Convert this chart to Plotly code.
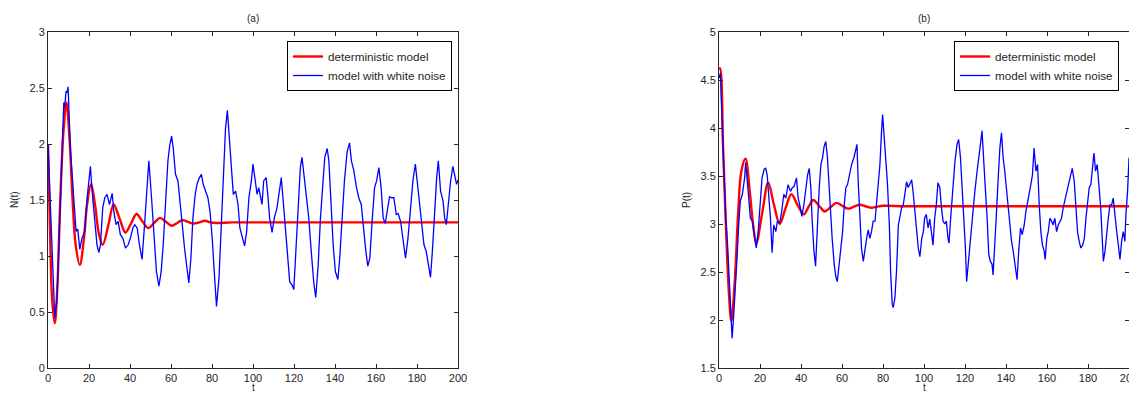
import plotly.graph_objects as go

# page is 1137x394; the HTML body has an 8px default margin, so the figure is
# sized to fill the rest of the window and layout positions are given in page pixels
OFF = 8
W, H = 1137 - OFF, 394 - OFF

# ---------------- data: panel (a) N(t) ----------------
t_N_det = [0, 1, 2, 3.3, 4.5, 6, 7.5, 9, 10.5, 12, 13.5, 15.5, 17.5, 19, 21, 23, 24.8, 26.7,
           29.5, 32, 35, 37.8, 40.5, 43.2, 46, 48.9, 51.8, 54.6, 57.5, 60.3, 63, 65.5, 68.3,
           71, 73.8, 76.5, 79.3, 82, 90, 100, 120, 140, 160, 180, 200]
N_det = [2.0, 1.22, 0.62, 0.40, 0.70, 1.50, 2.10, 2.37, 2.05, 1.50, 1.10, 0.92, 1.15, 1.45, 1.64,
         1.45, 1.20, 1.10, 1.28, 1.46, 1.33, 1.21, 1.29, 1.375, 1.31, 1.25, 1.295, 1.34, 1.305,
         1.27, 1.295, 1.32, 1.305, 1.29, 1.30, 1.315, 1.30, 1.295, 1.30, 1.30, 1.30, 1.30, 1.30,
         1.30, 1.30]

t_N_noise = [0, 1.0, 2.0, 3.3, 4.4, 5.5, 6.5, 7.7, 8.1, 8.8, 9.3, 9.8, 10.9, 12.1, 13.0, 13.7,
             14.5, 15.5, 16.6, 17.9, 19.1, 19.9, 20.7, 21.5, 22.6, 23.9, 24.8, 25.6, 26.7, 27.7,
             28.8, 30.0, 31.3, 32.1, 33.2, 34.2, 35.3, 36.5, 37.8, 39.1, 40.2, 41.4, 42.3, 43.5,
             44.6, 45.9, 47.1, 48.4, 49.2, 50.5, 51.6, 52.9, 54.1, 55.2, 56.2, 57.3, 58.5, 59.4,
             60.3, 61.1, 62.2, 63.4, 64.3, 65.5, 66.6, 67.6, 68.7, 69.7, 70.7, 71.8, 72.8, 73.9,
             74.8, 75.7, 76.9, 78.0, 79.0, 80.1, 81.3, 82.2, 83.4, 84.5, 85.5, 86.6, 87.5, 88.3,
             89.4, 90.4, 91.5, 92.7, 93.6, 94.8, 95.9, 96.9, 98.0, 99.2, 100.0,
             101.1, 102.0, 102.8, 103.6, 104.4, 105.2, 106.4, 107.2, 108.1, 109.3, 110.4, 111.7,
             112.9, 113.8, 115.0, 115.8, 116.6, 117.9, 119.1, 119.9, 121.0, 122.0, 123.1, 123.9,
             125.1, 126.1, 127.2, 128.3, 129.6, 130.6, 131.8, 132.9, 134.0, 135.0, 136.2, 137.0,
             138.1, 139.1, 140.2, 141.4, 142.3, 143.5, 144.6, 145.9, 147.1, 148.0, 149.2, 150.5,
             151.6, 152.8, 153.7, 154.9, 156.0, 157.0, 158.1, 159.3, 160.3, 161.4, 162.5, 163.5,
             164.5, 165.5, 166.6, 167.6, 168.7, 169.9, 170.8, 172.0, 173.1, 174.4, 175.6, 176.9,
             178.0, 179.2, 180.1, 181.3, 182.4, 183.4, 184.5, 185.5, 186.6, 187.6, 188.6, 189.6,
             190.4, 191.5, 192.7, 193.5, 194.3, 195.3, 196.4, 197.5, 198.4, 199.3, 200.0]
N_noise = [2.0, 1.52, 0.92, 0.45, 0.62, 1.22, 1.82, 2.37, 2.32, 2.47, 2.46, 2.51, 1.96, 1.64,
           1.40, 1.22, 1.24, 1.06, 1.16, 1.22, 1.52, 1.64, 1.80, 1.58, 1.34, 1.10, 1.03, 1.10,
           1.43, 1.52, 1.55, 1.46, 1.56, 1.40, 1.28, 1.31, 1.19, 1.16, 1.07, 1.10, 1.16, 1.25,
           1.28, 1.25, 1.10, 0.97, 1.28, 1.67, 1.85, 1.52, 1.22, 0.86, 0.73, 0.86, 1.10, 1.46,
           1.85, 1.99, 2.07, 1.96, 1.73, 1.67, 1.49, 1.22, 1.07, 0.92, 0.76, 0.98, 1.34, 1.55,
           1.65, 1.70, 1.73, 1.64, 1.58, 1.52, 1.40, 1.16, 0.80, 0.55, 0.80, 1.22, 1.64, 2.14,
           2.30, 2.08, 1.76, 1.55, 1.58, 1.46, 1.25, 1.16, 1.09, 1.22, 1.52, 1.67, 1.82,
           1.67, 1.55, 1.61, 1.52, 1.46, 1.67, 1.70, 1.55, 1.34, 1.21, 1.34, 1.43,
           1.61, 1.70, 1.43, 1.28, 1.07, 0.77, 0.74, 0.70, 1.07, 1.46, 1.79, 1.88,
           1.67, 1.52, 1.34, 1.07, 0.77, 0.63, 0.92, 1.34, 1.67, 1.88, 1.96, 1.85,
           1.46, 1.10, 0.86, 0.79, 0.98, 1.34, 1.67, 1.93, 2.01, 1.85, 1.76, 1.61,
           1.52, 1.46, 1.28, 1.07, 0.91, 0.98, 1.31, 1.61, 1.67, 1.79, 1.61, 1.34,
           1.29, 1.40, 1.53, 1.52, 1.52, 1.37, 1.38, 1.31, 1.16, 0.98, 1.16, 1.43,
           1.67, 1.82, 1.67, 1.46, 1.31, 1.10, 1.04, 0.92, 0.81, 1.07, 1.40, 1.70,
           1.85, 1.58, 1.49, 1.34, 1.28, 1.46, 1.67, 1.80, 1.70, 1.64, 1.68]

# ---------------- data: panel (b) P(t) ----------------
t_P_det = [0, 0.5, 2.0, 3.6, 4.9, 6.0, 7.7, 9.3, 10.9, 12.9, 15.0, 16.6, 18.2, 21.1, 24.0, 26.8,
           29.6, 32.4, 35.3, 38.3, 41.4, 43.7, 46.0, 48.8, 51.6, 54.4, 57.3, 60.1, 63.0, 65.8,
           68.7, 71.5, 74.4, 77.0, 80.0, 90, 100, 120, 140, 160, 180, 200]
P_det = [4.61, 4.62, 3.79, 2.85, 2.26, 1.99, 2.40, 3.10, 3.55, 3.68, 3.34, 3.00, 2.80, 3.12, 3.43,
         3.20, 3.00, 3.16, 3.31, 3.20, 3.10, 3.18, 3.25, 3.19, 3.13, 3.175, 3.22, 3.19, 3.16, 3.18,
         3.20, 3.185, 3.17, 3.18, 3.19, 3.185, 3.185, 3.185, 3.185, 3.185, 3.185, 3.185]

t_P_noise = [0, 0.7, 1.1, 2.3, 3.3, 4.1, 4.9, 5.7, 6.4, 7.2, 8.0, 8.8, 9.6, 10.4, 11.4, 12.5, 13.0,
             13.8, 14.5, 15.3, 16.3, 17.4, 18.2, 19.1, 19.9, 21.0, 22.0, 22.8, 23.5, 24.3, 25.1,
             25.9, 26.7, 27.7, 28.5, 29.6, 30.6, 31.6, 32.6, 33.7, 34.9, 35.8, 36.6, 37.8, 38.6,
             39.4, 40.4, 41.4, 42.3, 43.2, 44.0, 44.8, 45.4, 46.3, 47.1, 48.0, 48.9, 49.7, 50.5,
             51.3, 52.1, 52.9, 53.7, 54.6, 55.2, 56.2, 57.0, 57.7, 58.6, 59.4, 60.3, 61.1, 61.9,
             62.7, 63.5, 64.7, 65.8, 66.8, 67.3, 67.9, 68.7, 69.5, 70.4, 71.2, 72.0, 72.8, 73.6,
             74.4, 75.2, 76.1, 76.9, 77.7, 78.5, 79.3, 79.8, 80.6, 81.4, 82.2, 83.1, 83.7, 84.5,
             85.0, 85.8, 86.6, 87.5, 88.3, 89.1, 89.9, 90.7, 91.5, 92.3, 93.2, 94.0, 94.8, 95.6,
             96.4, 97.2, 98.0, 98.9, 99.7,
             100.3, 101.1, 102.0, 102.8, 103.6, 104.4, 105.2, 106.0, 106.8, 107.7, 108.5, 109.3,
             110.1, 110.9, 111.7, 112.2, 113.0, 113.7, 114.5, 115.1, 116.1, 116.9, 117.8, 118.6,
             119.4, 120.2, 120.8, 121.8, 122.8, 123.6, 124.8, 125.9, 126.7, 127.7, 128.3, 129.2,
             130.0, 130.8, 131.6, 132.4, 133.2, 133.7, 134.5, 135.3, 136.2, 137.0, 137.8, 138.6,
             139.4, 140.2, 141.0, 141.9, 142.7, 143.5, 144.3, 145.4, 146.2, 147.1, 147.9, 148.9,
             149.7, 150.5, 151.3, 152.1, 152.9, 153.7, 154.6, 155.4, 156.2, 157.0, 157.8, 158.6,
             159.1, 159.9, 160.6, 161.4, 162.2, 163.0, 163.8, 164.7, 165.5, 166.3, 167.1, 167.9,
             168.7, 169.5, 170.4, 171.2, 172.3, 173.3, 174.1, 174.9, 175.7, 176.5, 177.4, 178.2,
             179.0, 179.8, 180.6, 181.4, 182.1, 182.9, 183.7, 184.5, 185.3, 186.2, 187.0, 187.5,
             188.3, 189.1, 189.9, 190.7, 191.5, 192.3, 193.2, 194.0, 194.8, 195.6, 196.4, 197.2,
             198.0, 198.5, 199.3, 200.0]
P_noise = [4.52, 4.57, 4.31, 3.62, 3.06, 2.82, 2.47, 2.02, 1.81, 2.06, 2.30, 2.65, 2.99, 3.24,
           3.31, 3.48, 3.64, 3.48, 3.27, 3.06, 3.03, 2.85, 2.75, 2.92, 3.20, 3.48, 3.57, 3.58,
           3.51, 3.27, 3.06, 2.70, 2.99, 2.92, 3.03, 3.01, 3.13, 3.31, 3.27, 3.41, 3.34, 3.38,
           3.39, 3.48, 3.27, 3.20, 3.08, 3.20, 3.38, 3.51, 3.58, 3.38, 3.06, 2.72, 2.56, 2.99,
           3.38, 3.62, 3.69, 3.81, 3.86, 3.69, 3.38, 3.06, 2.85, 2.58, 2.45, 2.40, 2.58, 2.72,
           2.92, 3.20, 3.38, 3.41, 3.51, 3.62, 3.69, 3.81, 3.83, 3.44, 3.06, 2.75, 2.61, 2.75,
           2.85, 2.94, 2.85, 2.92, 3.03, 3.03, 3.24, 3.44, 3.62, 3.97, 4.14, 3.90, 3.69, 3.41,
           2.99, 2.51, 2.16, 2.13, 2.23, 2.51, 2.99, 3.10, 3.17, 3.20, 3.34, 3.44, 3.38, 3.43,
           3.46, 3.31, 3.13, 2.96, 2.75, 2.66, 2.85, 2.92,
           3.06, 3.10, 2.96, 3.05, 2.89, 2.78, 3.06, 3.20, 3.43, 3.38, 3.17, 3.03,
           3.00, 3.03, 2.85, 2.80, 3.06, 3.27, 3.51, 3.65, 3.83, 3.88, 3.69, 3.41,
           3.06, 2.75, 2.40, 2.65, 2.85, 3.10, 3.34, 3.55, 3.72, 3.86, 3.97, 3.69,
           3.34, 3.06, 2.68, 2.61, 2.58, 2.47, 2.75, 3.10, 3.48, 3.79, 3.95, 3.69,
           3.55, 3.38, 3.20, 2.96, 2.82, 2.72, 2.61, 2.42, 2.72, 2.96, 2.89, 2.99,
           3.13, 3.24, 3.31, 3.41, 3.51, 3.79, 3.55, 3.62, 3.20, 2.92, 2.78, 2.72,
           2.63, 2.85, 2.92, 3.06, 3.03, 2.99, 3.06, 2.92, 2.99, 3.03, 3.06, 3.17,
           3.24, 3.31, 3.41, 3.48, 3.58, 3.44, 3.13, 2.92, 2.82, 2.75, 2.78, 2.85,
           3.06, 3.20, 3.38, 3.41, 3.58, 3.74, 3.55, 3.62, 3.41, 3.17, 2.82, 2.61,
           2.72, 2.92, 3.06, 3.20, 3.20, 3.27, 3.06, 2.92, 2.78, 2.63, 2.82, 2.92,
           2.82, 3.10, 3.34, 3.69]

x_ticks = [0, 20, 40, 60, 80, 100, 120, 140, 160, 180, 200]
N_ticks = [0, 0.5, 1, 1.5, 2, 2.5, 3]
P_ticks = [1.5, 2, 2.5, 3, 3.5, 4, 4.5, 5]

labels = ["deterministic model", "model with white noise"]
FONT = "Liberation Sans, Arial, Helvetica, sans-serif"


def px(x):
    """page x pixel -> paper fraction"""
    return (x - OFF) / W


def py(y):
    """page y pixel (from top) -> paper fraction"""
    return (H - (y - OFF)) / H


fig = go.Figure()

fig.add_trace(go.Scatter(x=t_N_det, y=N_det, mode="lines", name=labels[0],
                         line=dict(color="#ff0000", width=2.4, shape="spline", smoothing=1.0),
                         xaxis="x", yaxis="y", legend="legend"))
fig.add_trace(go.Scatter(x=t_N_noise, y=N_noise, mode="lines", name=labels[1],
                         line=dict(color="#0000ff", width=1.3),
                         xaxis="x", yaxis="y", legend="legend"))
fig.add_trace(go.Scatter(x=t_P_det, y=P_det, mode="lines", name=labels[0],
                         line=dict(color="#ff0000", width=2.4, shape="spline", smoothing=1.0),
                         xaxis="x2", yaxis="y2", legend="legend2"))
fig.add_trace(go.Scatter(x=t_P_noise, y=P_noise, mode="lines", name=labels[1],
                         line=dict(color="#0000ff", width=1.3),
                         xaxis="x2", yaxis="y2", legend="legend2"))

axis_common = dict(showline=True, linecolor="#262626", linewidth=1, mirror="allticks",
                   ticks="inside", ticklen=4, tickwidth=1, tickcolor="#262626",
                   showgrid=False, zeroline=False, automargin=False,
                   ticklabeloverflow="allow",
                   tickfont=dict(family=FONT, size=11, color="#262626"))

fig.update_layout(
    template="none",
    width=W, height=H,
    margin=dict(l=0, r=0, t=0, b=0, pad=0, autoexpand=False),
    paper_bgcolor="white", plot_bgcolor="white",
    xaxis=dict(domain=[px(48), px(458)], range=[0, 200], tickvals=x_ticks, anchor="y",
               **axis_common),
    yaxis=dict(domain=[py(368), py(32)], range=[0, 3], tickvals=N_ticks, anchor="x",
               **axis_common),
    xaxis2=dict(domain=[px(719), px(1129)], range=[0, 200], tickvals=x_ticks, anchor="y2",
                **axis_common),
    yaxis2=dict(domain=[py(368), py(32)], range=[1.5, 5], tickvals=P_ticks, anchor="x2",
                **axis_common),
    legend=dict(x=px(452), xanchor="right", y=py(41), yanchor="top",
                bgcolor="white", bordercolor="black", borderwidth=1,
                font=dict(family=FONT, size=11.7, color="#262626"), tracegroupgap=0),
    legend2=dict(x=px(1119), xanchor="right", y=py(41), yanchor="top",
                 bgcolor="white", bordercolor="black", borderwidth=1,
                 font=dict(family=FONT, size=11.7, color="#262626"), tracegroupgap=0),
    showlegend=True,
)

ann_font = dict(family=FONT, size=10, color="#262626")
annotations = [
    dict(text="(a)", x=px(253), y=py(19), xref="paper", yref="paper", showarrow=False,
         font=ann_font, xanchor="center", yanchor="middle"),
    dict(text="(b)", x=px(924), y=py(19), xref="paper", yref="paper", showarrow=False,
         font=ann_font, xanchor="center", yanchor="middle"),
    dict(text="N(t)", x=px(14), y=py(200), xref="paper", yref="paper", showarrow=False,
         font=ann_font, textangle=-90, xanchor="center", yanchor="middle"),
    dict(text="P(t)", x=px(686), y=py(200), xref="paper", yref="paper", showarrow=False,
         font=ann_font, textangle=-90, xanchor="center", yanchor="middle"),
    dict(text="t", x=px(253), y=py(387), xref="paper", yref="paper", showarrow=False,
         font=ann_font, xanchor="center", yanchor="middle"),
    dict(text="t", x=px(924), y=py(387), xref="paper", yref="paper", showarrow=False,
         font=ann_font, xanchor="center", yanchor="middle"),
]
fig.update_layout(annotations=annotations)

fig.write_html("out.html")
